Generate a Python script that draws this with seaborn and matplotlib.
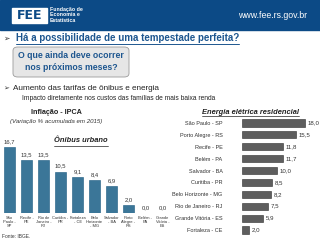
import matplotlib
matplotlib.use("Agg")
import matplotlib.pyplot as plt
import seaborn as sns
from matplotlib.patches import Rectangle, FancyBboxPatch
from matplotlib.lines import Line2D

# --- data ---
onibus_cidades = ["São\nPaulo -\nSP", "Recife -\nPE", "Rio de\nJaneiro -\nRJ", "Curitiba -\nPR",
                  "Fortaleza\n- CE", "Belo\nHorizonte\n- MG", "Salvador\n- BA", "Porto\nAlegre -\nRS",
                  "Belém -\nPA", "Grande\nVitória -\nES"]
onibus_valores = [16.7, 13.5, 13.5, 10.5, 9.1, 8.4, 6.9, 2.0, 0.0, 0.0]

energia_cidades = ["São Paulo - SP", "Porto Alegre - RS", "Recife - PE", "Belém - PA", "Salvador - BA",
                   "Curitiba - PR", "Belo Horizonte - MG", "Rio de Janeiro - RJ", "Grande Vitória - ES",
                   "Fortaleza - CE"]
energia_valores = [18.0, 15.5, 11.8, 11.7, 10.0, 8.5, 8.2, 7.5, 5.9, 2.0]

W, H = 320, 240
HEADER_BLUE = "#0c4a86"
TITLE_BLUE = "#1d568f"

sns.set_style("white")
plt.rcParams["font.family"] = ["Liberation Sans", "DejaVu Sans"]

fig = plt.figure(figsize=(3.2, 2.4), dpi=100)
fig.patch.set_facecolor("white")


def fx(x):
    return x / W


def fy(y):
    return 1 - y / H


def underline(t, color, lw=0.6, off=1.5):
    fig.canvas.draw()
    bb = t.get_window_extent(renderer=fig.canvas.get_renderer())
    y = fy(H - bb.y0 + off)
    fig.add_artist(Line2D([bb.x0 / W, bb.x1 / W], [y, y], color=color, lw=lw))


# header band
fig.add_artist(Rectangle((0, fy(30)), 1, 30 / H, color=HEADER_BLUE, transform=fig.transFigure))
fig.add_artist(Rectangle((fx(12), fy(23)), 35 / W, 15 / H, color="white", transform=fig.transFigure))
fig.text(fx(29.5), fy(15.8), "FEE", color=HEADER_BLUE, fontsize=9, fontweight="bold",
         ha="center", va="center", family=["DejaVu Sans"])
for i, s in enumerate(["Fundação de", "Economia e", "Estatística"]):
    fig.text(fx(50), fy(10 + i * 5), s, color="white", fontsize=3.8, fontweight="bold", va="center")
fig.text(fx(307), fy(16), "www.fee.rs.gov.br", color="white", fontsize=6.3, ha="right", va="center")

# question line
fig.text(fx(3), fy(38), "➢", color="#333333", fontsize=5.5, va="center", family=["DejaVu Sans"])
t = fig.text(fx(16), fy(38), "Há a possibilidade de uma tempestade perfeita?", color=TITLE_BLUE,
             fontsize=7.0, fontweight="bold", va="center")
underline(t, TITLE_BLUE, lw=0.7, off=1.2)

# rounded box
fig.add_artist(FancyBboxPatch((fx(13), fy(77)), 116 / W, 30 / H,
                              boxstyle="round,pad=0,rounding_size=0.015",
                              facecolor="#e6e6e6", edgecolor="#9a9a9a", lw=0.6,
                              transform=fig.transFigure))
fig.text(fx(71), fy(55), "O que ainda deve ocorrer", color=TITLE_BLUE, fontsize=6.3,
         fontweight="bold", ha="center", va="center")
fig.text(fx(71), fy(67), "nos próximos meses?", color=TITLE_BLUE, fontsize=6.3,
         fontweight="bold", ha="center", va="center")

# bullets
fig.text(fx(3), fy(89), "➢", color="#333333", fontsize=5, va="center", family=["DejaVu Sans"])
fig.text(fx(13), fy(89), "Aumento das tarifas de ônibus e energia", color="#222222", fontsize=5.9, va="center")
fig.text(fx(22), fy(99), "Impacto diretamente nos custos das famílias de mais baixa renda",
         color="#222222", fontsize=4.8, va="center")

# left chart titles
fig.text(fx(56), fy(113), "Inflação - IPCA", color="#222222", fontsize=5.2, fontweight="bold",
         ha="center", va="center")
fig.text(fx(56), fy(121.5), "(Variação % acumulada em 2015)", color="#333333", fontsize=4.4,
         style="italic", ha="center", va="center")
t = fig.text(fx(81), fy(141), "Ônibus urbano", color="#222222", fontsize=5.4, fontweight="bold",
             style="italic", ha="center", va="center")
underline(t, "#222222", lw=0.5, off=1.0)

# left bar chart
ax1 = fig.add_axes([fx(1), fy(213), 170 / W, 80 / H])
sns.barplot(x=onibus_cidades, y=onibus_valores, color="#2b7aa8", edgecolor="#1c5a80",
            linewidth=0.4, width=0.65, ax=ax1)
ax1.set_ylim(0, 16.7 * 80 / 66)
ax1.set_xlim(-0.5, len(onibus_valores) - 0.5)
ax1.set_yticks([])
ax1.set_xlabel("")
ax1.set_ylabel("")
for s in ax1.spines.values():
    s.set_visible(False)
ax1.tick_params(axis="x", length=0, pad=2, labelsize=2.9, labelcolor="#333333")
for lab in ax1.get_xticklabels():
    lab.set_linespacing(1.0)
ax1.bar_label(ax1.containers[0], labels=[f"{v:.1f}".replace(".", ",") for v in onibus_valores],
              fontsize=4.2, color="#333333", padding=2)
ax1.patch.set_alpha(0)

fig.text(fx(2), fy(237), "Fonte: IBGE.", color="#333333", fontsize=3.5, va="center")

# right chart title
t = fig.text(fx(250), fy(112), "Energia elétrica residencial", color="#222222", fontsize=5.4,
             fontweight="bold", style="italic", ha="center", va="center")
underline(t, "#222222", lw=0.5, off=1.0)

# right bar chart
ax2 = fig.add_axes([fx(242), fy(236), 78 / W, 119 / H])
sns.barplot(x=energia_valores, y=energia_cidades, orient="h", color="#5e5e5e", edgecolor="#2e2e2e",
            linewidth=0.4, width=0.6, ax=ax2)
ax2.set_xlim(0, 18.0 * 78 / 63)
ax2.set_xticks([])
ax2.set_xlabel("")
ax2.set_ylabel("")
for s in ax2.spines.values():
    s.set_visible(False)
ax2.tick_params(axis="y", length=0, pad=14, labelsize=4.0, labelcolor="#333333")
ax2.bar_label(ax2.containers[0], labels=[f"{v:.1f}".replace(".", ",") for v in energia_valores],
              fontsize=4.4, color="#333333", padding=2)
ax2.patch.set_alpha(0)

fig.savefig("out.png", dpi=100)
